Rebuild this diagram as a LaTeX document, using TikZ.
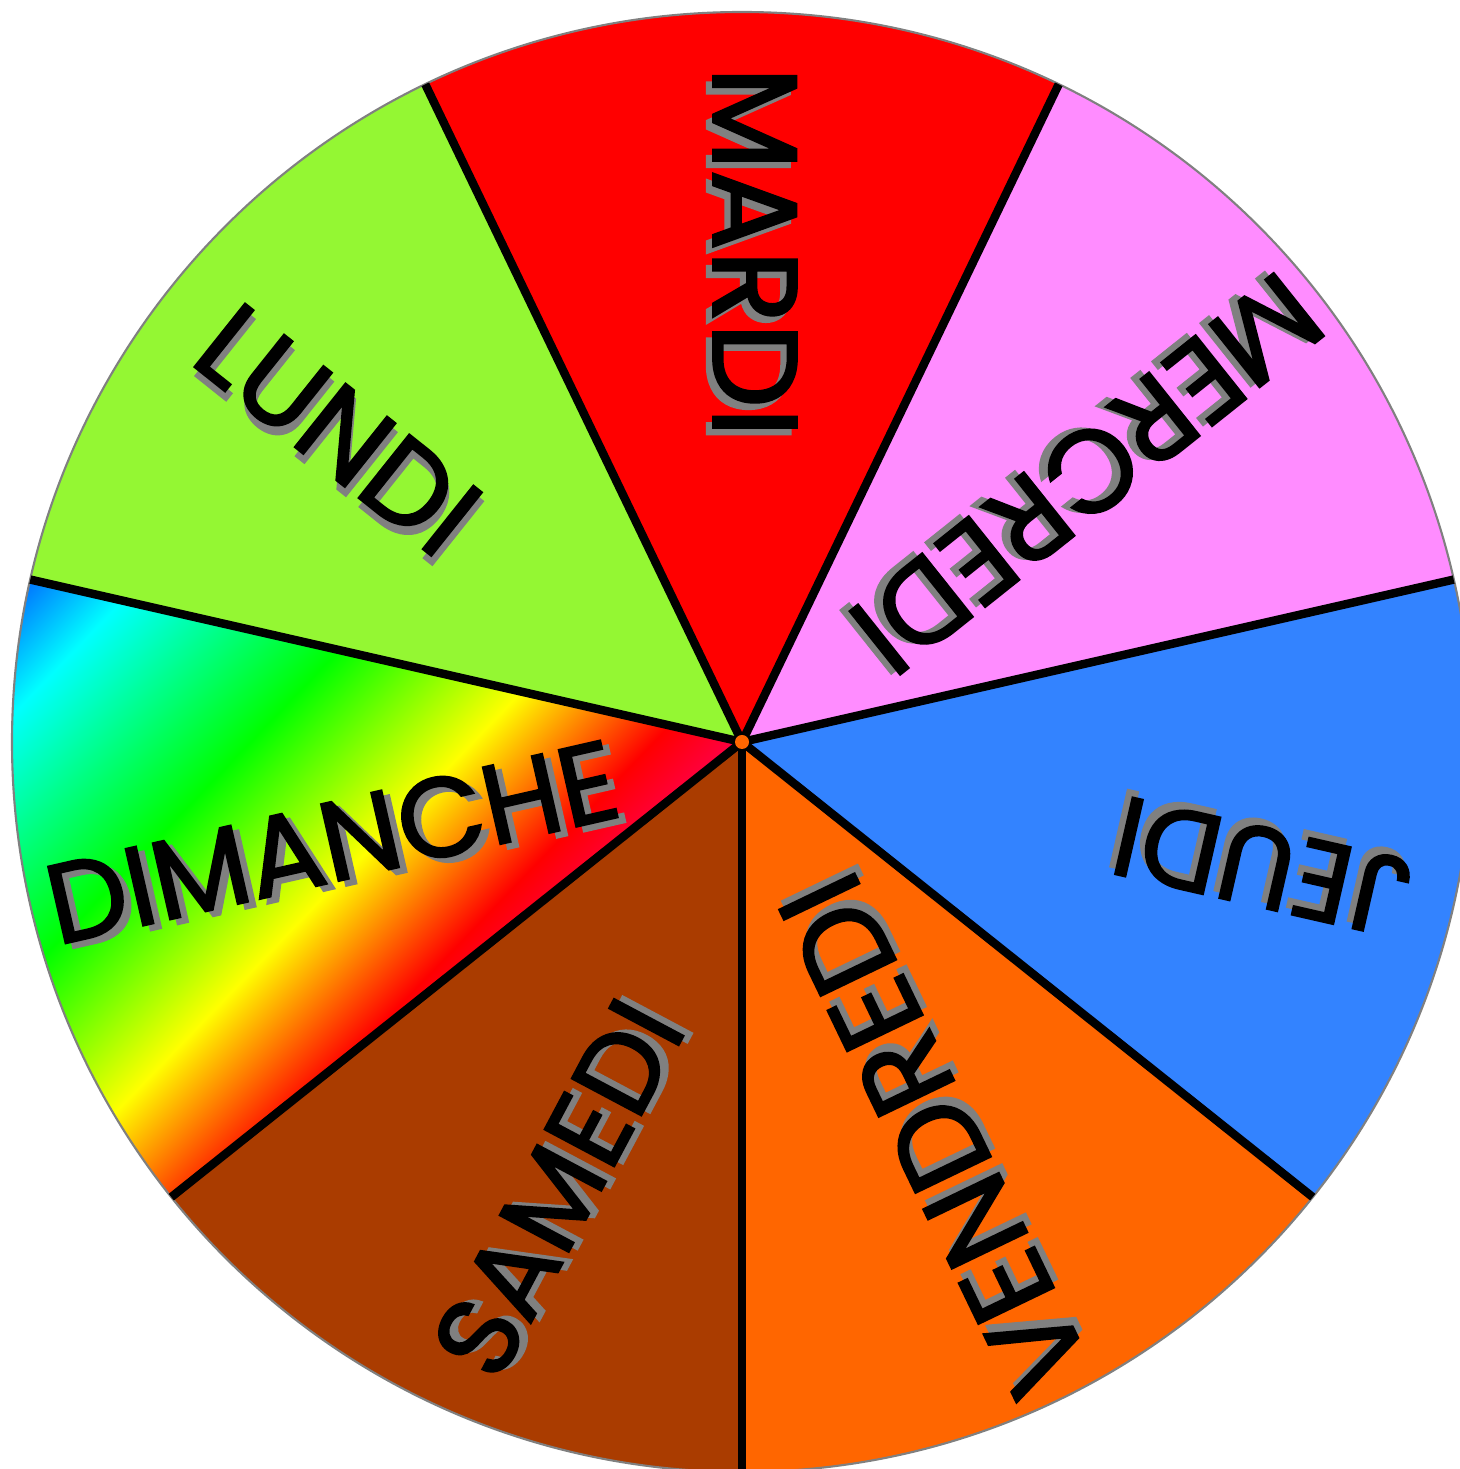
\documentclass[tikz,border=0pt]{standalone}
\usepackage{fontspec}
\newfontfamily\dayfont{Poppins}[FakeBold=2]
\usetikzlibrary{calc}

\definecolor{lundi}{RGB}{148,247,51}
\definecolor{mardi}{RGB}{255,0,0}
\definecolor{mercredi}{RGB}{255,140,255}
\definecolor{jeudi}{RGB}{51,131,255}
\definecolor{vendredi}{RGB}{255,102,0}
\definecolor{samedi}{RGB}{170,60,0}
\definecolor{shadowgray}{RGB}{128,128,128}

% rainbow of the sunday slice, blue on the rim to red at the hub
\pgfdeclarehorizontalshading{dimancherainbow}{10cm}{rgb(0cm)=(0,0.4,1); rgb(1.2cm)=(0,0.4,1); rgb(2.1cm)=(0,1,1); rgb(4.0cm)=(0,1,0); rgb(5.6cm)=(1,1,0); rgb(6.9cm)=(1,0,0); rgb(7.6cm)=(1,0,0.3); rgb(8cm)=(1,0,0.3)}

\tikzset{
  daytext/.style={inner sep=0pt, text=#1},
}

\begin{document}
\begin{tikzpicture}[x=0.01cm, y=0.01cm]
  \useasboundingbox (0,0) rectangle (1460,1469);
  \coordinate (c) at (742,727);
  \foreach \k/\col in {0/vendredi,1/jeudi,2/mercredi,3/mardi,4/lundi,6/samedi}
    \fill[\col] (c) -- ++({-90+\k*360/7}:730) arc[start angle={-90+\k*360/7}, delta angle={360/7}, radius=730] -- cycle;
  \begin{scope}
    \clip (c) -- ++({-90+5*360/7}:730) arc[start angle={-90+5*360/7}, delta angle={360/7}, radius=730] -- cycle;
    \node[inner sep=0pt, rotate=-44] (rainbow) at (305,784) {\pgfuseshading{dimancherainbow}};
  \end{scope}
  \draw[shadowgray, line width=0.6pt] (c) circle[radius=730];
  \foreach \k in {0,...,6} {
    \coordinate (b\k) at ($(c)+({-90+\k*360/7}:730)$);
    \draw[line width=2.4pt] (c) -- (b\k);
  }
  \node[circle, fill=vendredi, inner sep=0pt, minimum size=0.14cm] (hub) at (c) {};
  % day names, read from the rim towards the hub
  \foreach \txt/\x/\y/\rot/\fs/\xs in {MARDI/13/490/-90/34/1, LUNDI/-404/312/-38.57/33/1, MERCREDI/345/268/-141.43/33/1, JEUDI/520/-125/167.14/32/1, VENDREDI/192/-393/115.71/34/1, SAMEDI/-184/-446/62/32/1, DIMANCHE/-410/-100/12.86/32/1} {
    \node[daytext=shadowgray, rotate=\rot, xscale=\xs, font=\dayfont\fontsize{\fs}{\fs}\selectfont] (\txt-shadow) at ($(c)+(\x,\y)+(\rot-45:9)$) {\txt};
    \node[daytext=black, rotate=\rot, xscale=\xs, font=\dayfont\fontsize{\fs}{\fs}\selectfont] (\txt) at ($(c)+(\x,\y)$) {\txt};
  }
\end{tikzpicture}
\end{document}
